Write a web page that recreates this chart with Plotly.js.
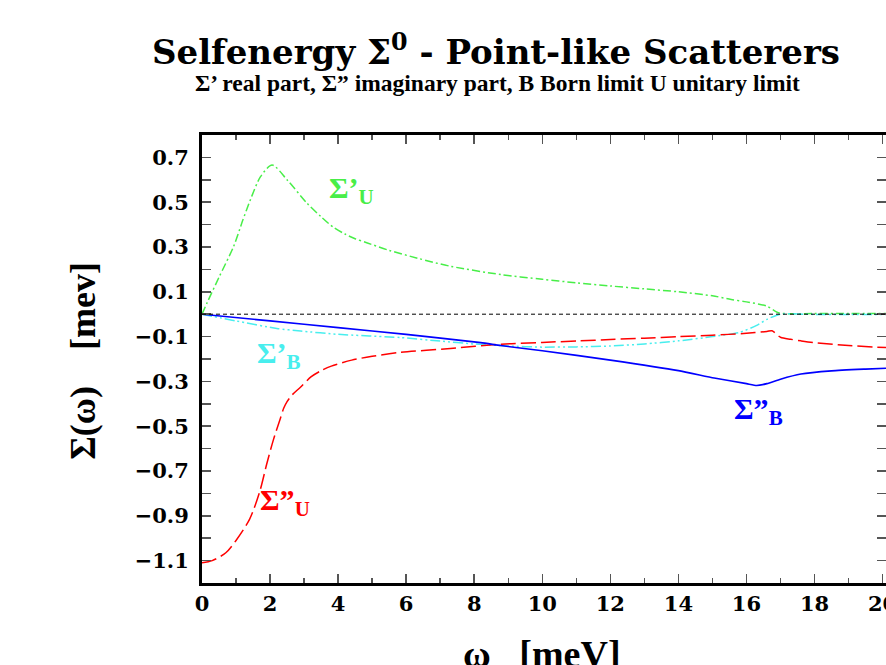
<!DOCTYPE html>
<html><head><meta charset="utf-8">
<script src="https://cdn.plot.ly/plotly-3.0.1.min.js"></script>
<style>html,body{margin:0;padding:0;background:#fff}#c{width:886px;height:665px}</style>
</head><body><div id="c"></div>
<script>
// Σ'_U (real part, unitary limit)
const realU_x = [0, 0.15, 0.5, 0.93, 1.2, 1.42, 1.72, 2.06, 2.5, 3.09, 3.5, 3.87, 4.2, 4.5, 4.86, 5.5, 6.33, 7.3, 8.78, 10, 11, 12, 13, 14, 15, 15.55, 16, 16.6, 16.9, 17.1, 18, 19, 20.1];
const realU_y = [0.0, 0.051, 0.165, 0.303, 0.42, 0.51, 0.614, 0.666, 0.60, 0.495, 0.435, 0.387, 0.358, 0.337, 0.318, 0.285, 0.25, 0.214, 0.177, 0.156, 0.14, 0.126, 0.113, 0.1, 0.082, 0.066, 0.055, 0.036, 0.009, 0.003, 0.003, 0.003, 0.003];
// Σ'_B (real part, Born limit)
const realB_x = [0, 1, 2.2, 2.9, 4, 5.83, 7, 8, 9, 10, 11, 12, 13, 14, 15, 15.8, 16.3, 16.6, 17.0, 18, 19, 20.1];
const realB_y = [0, -0.03, -0.064, -0.075, -0.09, -0.104, -0.12, -0.133, -0.142, -0.147, -0.146, -0.142, -0.133, -0.119, -0.1, -0.081, -0.05, -0.023, 0.0, -0.001, -0.001, -0.001];
// Σ''_U (imaginary part, unitary limit)
const imagU_x = [0, 0.3, 0.7, 1.0, 1.4, 1.7, 1.9, 2.1, 2.3, 2.4, 2.5, 2.65, 2.9, 3.2, 3.5, 3.8, 4.4, 5.0, 5.8, 7.3, 8.8, 10, 11.1, 12, 13, 14, 15, 16, 16.6, 16.75, 17.0, 17.3, 17.6, 18, 19, 20.1];
const imagU_y = [-1.11, -1.10, -1.065, -1.01, -0.915, -0.79, -0.67, -0.56, -0.467, -0.42, -0.39, -0.36, -0.325, -0.28, -0.252, -0.232, -0.205, -0.188, -0.171, -0.153, -0.134, -0.126, -0.119, -0.113, -0.107, -0.1, -0.094, -0.085, -0.077, -0.074, -0.103, -0.112, -0.119, -0.127, -0.14, -0.149];
// Σ''_B (imaginary part, Born limit)
const imagB_x = [0, 2, 4, 6, 8.19, 8.78, 10, 12, 14, 15.05, 16, 16.3, 16.6, 17, 17.6, 18.5, 19.5, 20.1];
const imagB_y = [0, -0.03, -0.06, -0.09, -0.127, -0.14, -0.163, -0.205, -0.252, -0.285, -0.31, -0.318, -0.31, -0.29, -0.267, -0.253, -0.245, -0.241];

const xRange = [0, 20.1];
const yRange = [-1.2, 0.8];

const traces = [
  {x: realU_x, y: realU_y, mode: 'lines', line: {color: '#48ee48', width: 1.5, dash: '8px,3px,2px,3px', shape: 'spline', smoothing: 0.8}},
  {x: realB_x, y: realB_y, mode: 'lines', line: {color: '#48eeee', width: 1.5, dash: '10px,3px,2px,3px,2px,3px', shape: 'spline', smoothing: 0.6}},
  {x: imagU_x, y: imagU_y, mode: 'lines', line: {color: '#ff0000', width: 1.5, dash: '15px,5px', shape: 'spline', smoothing: 0.8}},
  {x: imagB_x, y: imagB_y, mode: 'lines', line: {color: '#0000ff', width: 1.6, shape: 'spline', smoothing: 0.5}}
];

const tickFont = {family: 'DejaVu Serif', size: 21, color: '#000', weight: 'bold'};
const lab = {family: 'Liberation Serif', size: 30, weight: 'bold'};

const layout = {
  width: 886, height: 665,
  margin: {l: 202, r: 0, t: 135, b: 82},
  paper_bgcolor: '#fff', plot_bgcolor: '#fff',
  showlegend: false,
  xaxis: {
    range: xRange, showgrid: false, zeroline: false,
    showline: true, linecolor: '#000', linewidth: 3, mirror: 'ticks',
    ticks: 'inside', ticklen: 9, tickwidth: 1.5, tickcolor: '#555',
    tick0: 0, dtick: 2, tickfont: tickFont, ticklabeloverflow: 'allow',
    minor: {dtick: 1, ticks: 'inside', ticklen: 5, tickwidth: 1.5, tickcolor: '#555'}
  },
  yaxis: {
    range: yRange, showgrid: false, zeroline: false,
    showline: true, linecolor: '#000', linewidth: 3, mirror: 'ticks',
    ticks: 'inside', ticklen: 9, tickwidth: 1.5, tickcolor: '#555',
    tick0: 0.1, dtick: 0.2, tickfont: tickFont, ticklabelstandoff: 6, ticklabeloverflow: 'allow',
    minor: {dtick: 0.1, tick0: 0, ticks: 'inside', ticklen: 9, tickwidth: 1.5, tickcolor: '#555'}
  },
  shapes: [
    {type: 'line', xref: 'paper', x0: 0, x1: 1, yref: 'y', y0: 0, y1: 0, line: {color: '#000', width: 1, dash: '4px,3px'}}
  ],
  annotations: [
    {text: 'Selfenergy Σ<sup>0</sup> - Point-like Scatterers', xref: 'paper', yref: 'paper', x: 0.43, y: 1.19, xanchor: 'center', yanchor: 'middle', showarrow: false,
     font: {family: 'DejaVu Serif', size: 34, color: '#000', weight: 'bold'}},
    {text: "Σ’ real part, Σ” imaginary part, B Born limit U unitary limit", xref: 'paper', yref: 'paper', x: 0.432, y: 1.116, xanchor: 'center', yanchor: 'middle', showarrow: false,
     font: {family: 'Liberation Serif', size: 23.5, color: '#000', weight: 'bold'}},
    {text: 'Σ(ω)    [mev]', xref: 'paper', yref: 'paper', x: -0.174, y: 0.496, xanchor: 'center', yanchor: 'middle', textangle: -90, showarrow: false,
     font: {family: 'Liberation Serif', size: 36, color: '#000', weight: 'bold'}},
    {text: 'ω   [meV]', xref: 'paper', yref: 'paper', x: 0.497, y: -0.108, xanchor: 'center', yanchor: 'top', showarrow: false,
     font: {family: 'Liberation Serif', size: 38, color: '#000', weight: 'bold'}},
    {text: "Σ’<sub>U</sub>", x: 4.4, y: 0.555, showarrow: false, font: Object.assign({}, lab, {color: '#48ee48'})},
    {text: "Σ’<sub>B</sub>", x: 2.25, y: -0.18, showarrow: false, font: Object.assign({}, lab, {color: '#48eeee'})},
    {text: "Σ”<sub>U</sub>", x: 2.45, y: -0.84, showarrow: false, font: Object.assign({}, lab, {color: '#ff0000'})},
    {text: "Σ”<sub>B</sub>", x: 16.35, y: -0.43, showarrow: false, font: Object.assign({}, lab, {color: '#0000ff'})}
  ]
};
Plotly.newPlot('c', traces, layout, {displayModeBar: false, staticPlot: true});
</script></body></html>
